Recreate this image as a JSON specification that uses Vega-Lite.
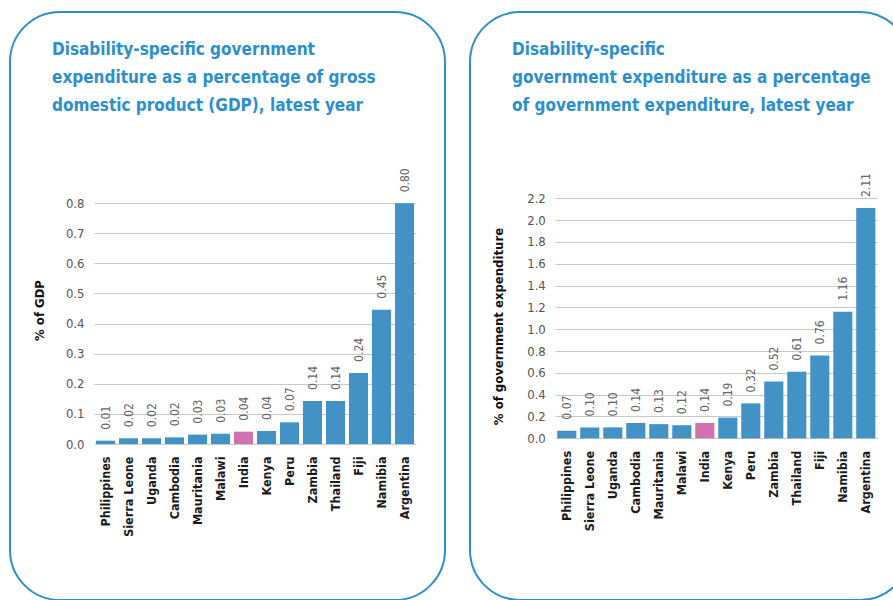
{
  "$schema": "https://vega.github.io/schema/vega-lite/v6.json",
  "background": "white",
  "padding": {"left": 9, "top": 11, "right": 0, "bottom": 0},
  "spacing": 23,
  "config": {
    "font": "DejaVu Sans Condensed, sans-serif",
    "view": {"stroke": "#2b8fce", "strokeWidth": 2, "cornerRadius": 50, "fill": "white"},
    "axisY": {"grid": true, "gridColor": "#c8c8c8", "gridWidth": 1, "domain": false, "ticks": false, "labelColor": "#555555", "labelFontSize": 13, "labelPadding": 10, "titleFontSize": 13, "titleFontWeight": "bold", "titleColor": "#111111", "titleAngle": 270, "titleBaseline": "bottom", "titleAlign": "center"},
    "axisX": {"grid": false, "domain": false, "ticks": false, "labelFontWeight": "bold", "labelFontSize": 12.5, "labelColor": "#1a1a1a", "labelPadding": 12, "labelAngle": -90},
    "title": {"anchor": "start", "frame": "group", "orient": "top", "baseline": "top", "offset": -103, "dx": 42, "lineHeight": 28, "fontSize": 17, "fontWeight": "bold", "color": "#2b8fce"}
  },
  "datasets": {
    "gdp": [
      {"country": "Philippines", "value": 0.011},
      {"country": "Sierra Leone", "value": 0.019},
      {"country": "Uganda", "value": 0.019},
      {"country": "Cambodia", "value": 0.022},
      {"country": "Mauritania", "value": 0.031},
      {"country": "Malawi", "value": 0.034},
      {"country": "India", "value": 0.041},
      {"country": "Kenya", "value": 0.043},
      {"country": "Peru", "value": 0.072},
      {"country": "Zambia", "value": 0.143},
      {"country": "Thailand", "value": 0.143},
      {"country": "Fiji", "value": 0.236},
      {"country": "Namibia", "value": 0.446},
      {"country": "Argentina", "value": 0.799}
    ],
    "gov": [
      {"country": "Philippines", "value": 0.07},
      {"country": "Sierra Leone", "value": 0.10},
      {"country": "Uganda", "value": 0.10},
      {"country": "Cambodia", "value": 0.14},
      {"country": "Mauritania", "value": 0.13},
      {"country": "Malawi", "value": 0.12},
      {"country": "India", "value": 0.14},
      {"country": "Kenya", "value": 0.19},
      {"country": "Peru", "value": 0.32},
      {"country": "Zambia", "value": 0.52},
      {"country": "Thailand", "value": 0.61},
      {"country": "Fiji", "value": 0.76},
      {"country": "Namibia", "value": 1.16},
      {"country": "Argentina", "value": 2.11}
    ]
  },
  "hconcat": [
    {
      "width": 435,
      "height": 588,
      "data": {"name": "gdp"},
      "title": {"text": ["Disability-specific government", "expenditure as a percentage of gross", "domestic product (GDP), latest year"]},
      "encoding": {
        "x": {"field": "country", "type": "nominal", "sort": null, "scale": {"range": [84, 406], "paddingInner": 0.17, "paddingOuter": 0.085}, "axis": {"title": null, "offset": -156}},
        "y": {"field": "value", "type": "quantitative", "scale": {"domain": [0, 0.8], "range": [432, 191], "nice": false, "zero": true}, "axis": {"title": "% of GDP", "offset": -84, "values": [0, 0.1, 0.2, 0.3, 0.4, 0.5, 0.6, 0.7, 0.8], "format": ".1f", "titleX": -48, "titleY": 298}}
      },
      "layer": [
        {"mark": {"type": "bar"}, "encoding": {"color": {"condition": {"test": "datum.country === 'India'", "value": "#d071b0"}, "value": "#4292c6"}}},
        {"mark": {"type": "text", "angle": 270, "align": "left", "baseline": "middle", "dx": 11, "fontSize": 12, "color": "#666666"}, "encoding": {"text": {"field": "value", "type": "quantitative", "format": ".2f"}}}
      ]
    },
    {
      "width": 440,
      "height": 588,
      "data": {"name": "gov"},
      "title": {"text": ["Disability-specific", " government expenditure as a percentage", " of government expenditure, latest year"]},
      "encoding": {
        "x": {"field": "country", "type": "nominal", "sort": null, "scale": {"range": [85.3, 407.3], "paddingInner": 0.17, "paddingOuter": 0.085}, "axis": {"title": null, "offset": -161.7}},
        "y": {"field": "value", "type": "quantitative", "scale": {"domain": [0, 2.2], "range": [426.3, 186.3], "nice": false, "zero": true}, "axis": {"title": "% of government expenditure", "offset": -85.3, "values": [0, 0.2, 0.4, 0.6, 0.8, 1.0, 1.2, 1.4, 1.6, 1.8, 2.0, 2.2], "format": ".1f", "titleX": -50, "titleY": 314}}
      },
      "layer": [
        {"mark": {"type": "bar"}, "encoding": {"color": {"condition": {"test": "datum.country === 'India'", "value": "#d071b0"}, "value": "#4292c6"}}},
        {"mark": {"type": "text", "angle": 270, "align": "left", "baseline": "middle", "dx": 11, "fontSize": 12, "color": "#666666"}, "encoding": {"text": {"field": "value", "type": "quantitative", "format": ".2f"}}}
      ]
    }
  ]
}
